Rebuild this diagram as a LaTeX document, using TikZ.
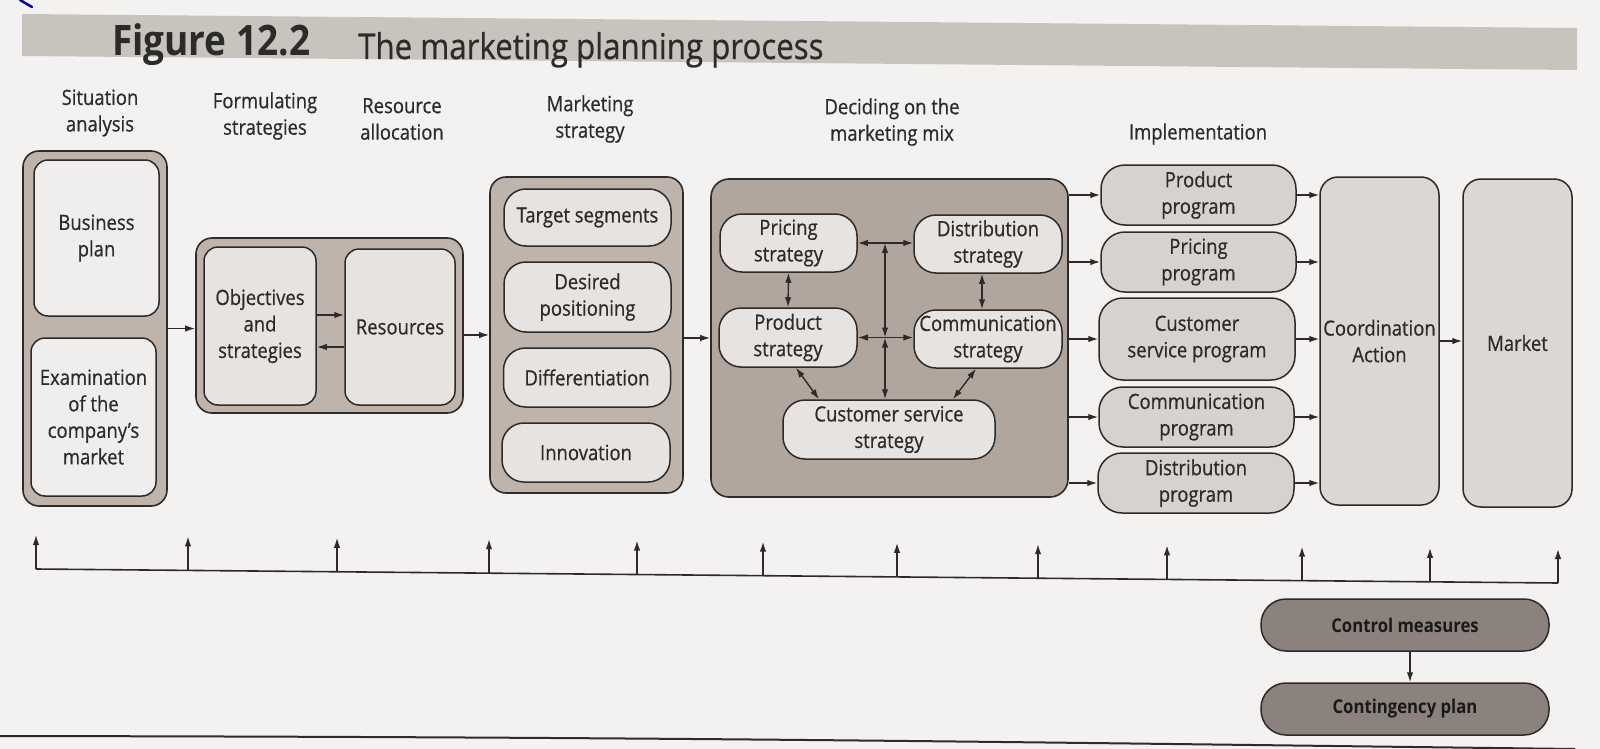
\documentclass[tikz,border=0pt]{standalone}
\usepackage{fontspec}
\setmainfont{Open Sans}[FakeStretch=0.88,UprightFeatures={FakeBold=0.6}]
\usetikzlibrary{arrows.meta,calc}
\definecolor{bg}{HTML}{F3F2F0}
\definecolor{band}{HTML}{C9C3BE}
\definecolor{outerA}{HTML}{BFB4AC}
\definecolor{outerB}{HTML}{B1A69E}
\definecolor{innerA}{HTML}{F0EEEC}
\definecolor{innerB}{HTML}{E7E3E0}
\definecolor{prog}{HTML}{D7D2CE}
\definecolor{coordc}{HTML}{DBD7D4}
\definecolor{ctrl}{HTML}{8C827D}
\definecolor{ink}{HTML}{2E2A29}
\definecolor{txt}{HTML}{2B2B2B}
\newcommand\myfont{\fontsize{21}{26.5}\selectfont}
\begin{document}
\begin{tikzpicture}[x=1pt,y=-1pt,
  sz/.style n args={2}{minimum width=#1pt,minimum height=#2pt},
  base/.style={draw=ink,line width=1.5pt,inner sep=0pt,align=center,text=txt,font=\myfont},
  outerbox/.style={base,line width=1.6pt,rounded corners=16pt,fill=outerA},
  innerbox/.style={base,rounded corners=14pt,fill=innerA},
  pillbox/.style={base,rounded corners=22pt,fill=innerB},
  progbox/.style={base,rounded corners=24pt,fill=prog},
  tallbox/.style={base,rounded corners=18pt,fill=coordc},
  ctlbox/.style={base,rounded corners=25pt,fill=ctrl,text=black!90,font=\fontsize{19}{22}\selectfont\bfseries},
  head/.style={align=center,text=txt,font=\myfont,inner sep=0pt},
  arr/.style={draw=ink,line width=1.4pt,-{Latex[length=10pt,width=6.5pt]}},
  dbl/.style={draw=ink,line width=1.4pt,{Latex[length=10pt,width=6.5pt]}-{Latex[length=10pt,width=6.5pt]}}
]
\fill[bg] (0,0) rectangle (1600,749);
\useasboundingbox (0,0) rectangle (1600,749);
\draw[blue!70!black,line width=2.5pt,line cap=round] (20,0) -- (32,7);
% title band
\fill[band] (22,14) -- (1577,28) -- (1577,70) -- (22,56) -- cycle;
\node[anchor=base west,inner sep=0pt,text=txt,font=\fontsize{42}{44}\selectfont\bfseries] (fig) at (112,56) {Figure 12.2};
\node[anchor=base west,inner sep=0pt,text=txt,font=\fontsize{35.5}{40}\selectfont] (ttl) at (358,59) {The marketing planning process};
% headers
\node[head] (h1) at (100,113) {Situation\\analysis};
\node[head] (h2) at (265,116) {Formulating\\strategies};
\node[head] (h3) at (402,119) {Resource\\allocation};
\node[head] (h4) at (590,119) {Marketing\\strategy};
\node[head] (h5) at (892,122) {Deciding on the\\marketing mix};
\node[head] (h6) at (1198,134) {Implementation};
% situation analysis
\node[outerbox,sz={144}{355}] (sitO) at (95,328.5) {};
\node[innerbox,sz={125}{156}] (bp) at (96.5,238) {Business\\plan};
\node[innerbox,sz={125}{158}] (ex) at (93.5,417) {Examination\\of the\\company's\\market};
% formulating strategies
\node[outerbox,sz={267}{175}] (fO) at (329.5,325.5) {};
\node[innerbox,fill=innerB,sz={112}{158}] (obj) at (260,326) {Objectives\\and\\strategies};
\node[innerbox,fill=innerB,sz={110}{156}] (res) at (400,327) {Resources};
% marketing strategy
\node[outerbox,sz={193}{316}] (msO) at (586.5,335) {};
\node[pillbox,sz={167}{57}] (ts) at (587.5,217.5) {Target segments};
\node[pillbox,sz={167}{70}] (dpos) at (587.5,297) {Desired\\positioning};
\node[pillbox,sz={167}{59}] (dif) at (587,377.5) {Differentiation};
\node[pillbox,sz={168}{59}] (inn) at (586,452.5) {Innovation};
% marketing mix
\node[outerbox,fill=outerB,rounded corners=18pt,sz={357}{318}] (mxO) at (889.5,338) {};
\node[pillbox,sz={137}{58}] (ps) at (788.5,243) {Pricing\\strategy};
\node[pillbox,sz={148}{58}] (ds) at (988,244) {Distribution\\strategy};
\node[pillbox,sz={138}{59}] (prs) at (788,337.5) {Product\\strategy};
\node[pillbox,sz={148}{58}] (cs) at (988,339) {Communication\\strategy};
\node[pillbox,sz={212}{59}] (css) at (889,429.5) {Customer service\\strategy};
% implementation
\node[progbox,sz={195}{60}] (pp) at (1198.5,195) {Product\\program};
\node[progbox,sz={195}{60}] (prp) at (1198.5,262) {Pricing\\program};
\node[progbox,sz={196}{82}] (csp) at (1197,339) {Customer\\service program};
\node[progbox,sz={195}{60}] (cmp) at (1196.5,417) {Communication\\program};
\node[progbox,sz={196}{60}] (dpg) at (1196,483) {Distribution\\program};
\node[tallbox,sz={119}{328}] (coord) at (1379.5,341) {Coordination\\Action};
\node[tallbox,sz={109}{328}] (market) at (1517.5,343) {Market};
% control
\node[ctlbox,sz={288}{52}] (ctl) at (1405,625) {Control measures};
\node[ctlbox,sz={288}{52}] (cont) at (1405,709) {Contingency plan};
% connectors
\draw[arr] (sitO.east) -- (sitO.east -| fO.west);
\draw[arr] (msO.west -| fO.east) -- (msO.west);
\coordinate (o1) at ($(obj.east)+(0,-11)$);
\coordinate (o2) at ($(obj.east)+(0,21)$);
\draw[arr] (o1) -- (o1 -| res.west);
\draw[arr] (o2 -| res.west) -- (o2);
\draw[arr] (msO.east |- mxO.west) -- (mxO.west);
\draw[dbl] (ps.east) -- (ps.east -| ds.west);
\draw[dbl] (prs.east) -- (prs.east -| cs.west);
\draw[dbl] (ps.south) -- (prs.north);
\coordinate (dsb) at ($(ds.south)+(-6,0)$);
\draw[dbl] (dsb) -- (dsb |- cs.north);
\coordinate (vt) at (885,243);
\coordinate (vm) at (885,337.5);
\draw[dbl] (vt) -- (vm);
\draw[dbl] (vm) -- (vm |- css.north);
\draw[dbl] ($(prs.south)+(8,0)$) -- ($(css.north)+(-70,0)$);
\draw[dbl] ($(cs.south)+(-12,0)$) -- ($(css.north)+(64,0)$);
\foreach \p in {pp,prp,csp,cmp,dpg}{
  \draw[arr] (\p.west -| mxO.east) -- (\p.west);
  \draw[arr] (\p.east) -- (\p.east -| coord.west);
}
\draw[arr] (coord.east) -- (coord.east -| market.west);
\draw[arr] ($(ctl.south)+(5,0)$) -- ($(cont.north)+(5,0)$);
% timeline
\foreach \x in {36,188,337,489,637,763,897,1038,1167,1302,1430,1558}{
  \pgfmathsetmacro\yb{569+(\x-36)/1522*14}
  \coordinate (b\x) at (\x,\yb);
  \coordinate (t\x) at (\x,\yb-34);
  \draw[arr] (b\x) -- (t\x);
}
\draw[draw=ink,line width=1.6pt] (b36) -- (b1558);
% bottom rule
\draw[draw=ink,line width=2pt] (0,736) .. controls (700,737) and (1000,742) .. (1575,749);
\end{tikzpicture}
\end{document}
